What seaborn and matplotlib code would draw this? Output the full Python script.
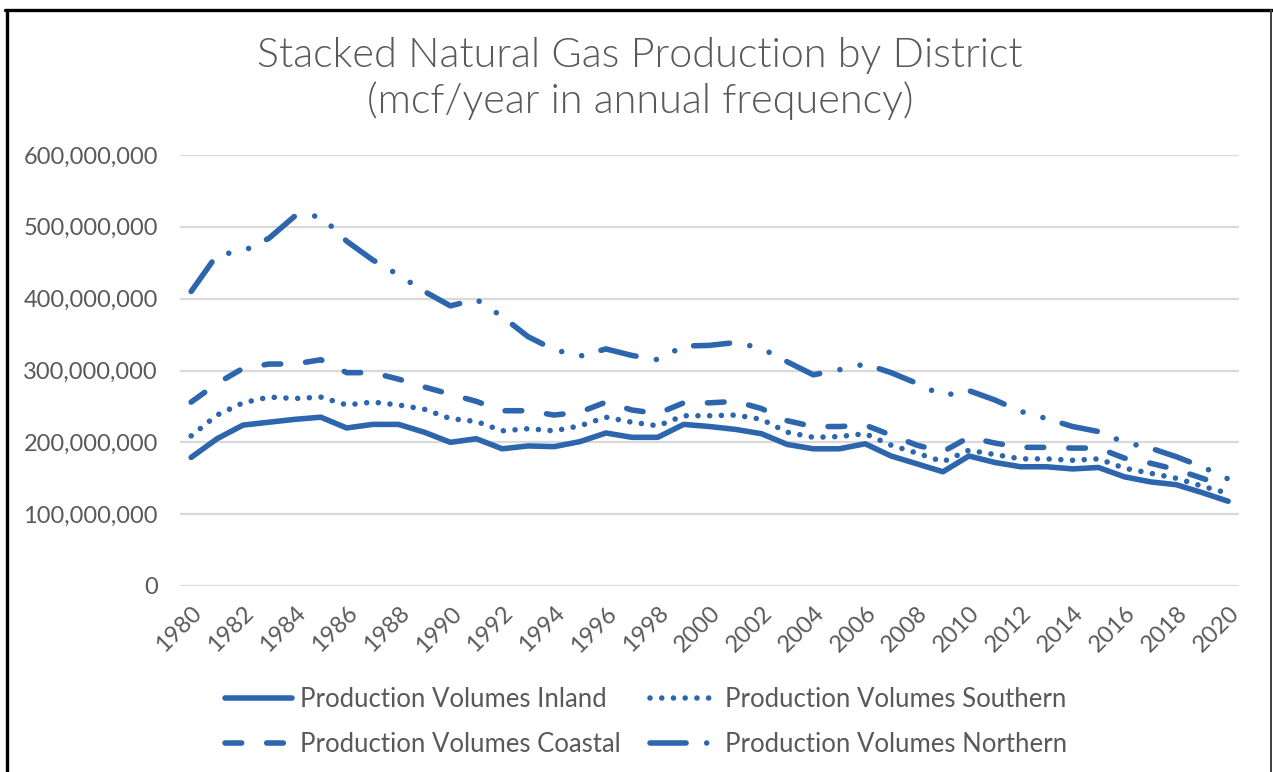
import numpy as np
import matplotlib
matplotlib.use("Agg")
import matplotlib.pyplot as plt
from matplotlib.lines import Line2D
from matplotlib.ticker import FuncFormatter
import seaborn as sns

years = list(range(1980, 2021))

# stacked levels as plotted (millions of mcf/year)
inland = [179, 205, 224, 228, 232, 235, 220, 225, 225, 214,
          200, 205, 191, 195, 194, 201, 213, 207, 207, 225,
          222, 218, 212, 197, 191, 191, 198, 181, 170, 159,
          181, 172, 166, 166, 163, 165, 152, 145, 141, 130,
          118]
southern = [209, 238, 255, 263, 261, 263, 252, 256, 252, 246,
            233, 229, 216, 219, 216, 223, 235, 228, 223, 237,
            237, 238, 232, 214, 207, 208, 212, 196, 185, 173,
            189, 183, 177, 177, 175, 177, 164, 157, 150, 139,
            129]
coastal = [256, 282, 303, 309, 309, 315, 297, 297, 288, 277,
           267, 257, 244, 244, 238, 242, 256, 245, 240, 255,
           255, 257, 247, 230, 222, 222, 224, 210, 196, 187,
           207, 199, 193, 193, 192, 192, 178, 171, 162, 150,
           138]
northern = [410, 461, 466, 484, 515, 515, 480, 454, 433, 410,
            390, 399, 375, 347, 329, 320, 330, 321, 315, 334,
            335, 339, 331, 312, 294, 301, 309, 297, 282, 265,
            272, 259, 243, 233, 222, 215, 200, 192, 180, 166,
            149]

series_names = ["Production Volumes Inland", "Production Volumes Southern",
                "Production Volumes Coastal", "Production Volumes Northern"]
series_values = [inland, southern, coastal, northern]

title_lines = ["Stacked Natural Gas Production by District",
               "(mcf/year in annual frequency)"]
y_ticks = [0, 100e6, 200e6, 300e6, 400e6, 500e6, 600e6]
x_ticks = list(range(1980, 2021, 2))

sns.set_style("white")
plt.rcParams['font.family'] = ['Lato', 'DejaVu Sans']

BLUE = "#2E66AE"
GREY = "#595959"
styles = [
    "-",
    (0, (0.01, 2.1)),
    (0, (3.0, 4.5)),
    (0, (6.5, 3.7, 0.01, 3.7, 0.01, 3.6)),
]

fig = plt.figure(figsize=(12.73, 7.72), dpi=100)
ax = fig.add_axes([180 / 1273, 1 - 586 / 772, (1239 - 180) / 1273, (586 - 155) / 772])

for name, vals, ls in zip(series_names, series_values, styles):
    sns.lineplot(x=years, y=np.array(vals) * 1e6, ax=ax, color=BLUE, lw=4.0,
                 linestyle=ls, dash_capstyle="round", solid_capstyle="round",
                 solid_joinstyle="round", label=name, legend=False)

ax.set_ylim(0, 600e6)
ax.set_xlim(1979.57, 2020.42)
ax.set_yticks(y_ticks)
ax.yaxis.set_major_formatter(FuncFormatter(lambda v, p: f"{int(round(v)):,}"))
ax.set_xticks(x_ticks)
ax.set_xticklabels([str(y) for y in x_ticks], rotation=45, ha="right", va="top",
                   rotation_mode="anchor")
ax.tick_params(axis="both", length=0, colors=GREY, labelsize=17)
ax.tick_params(axis="y", pad=16)
ax.tick_params(axis="x", pad=12)
ax.yaxis.grid(True, color="#D9D9D9", lw=1.6)
ax.xaxis.grid(False)
for s in ax.spines.values():
    s.set_visible(False)
ax.set_xlabel("")
ax.set_ylabel("")

fig.text(640 / 1273, 1 - 56 / 772, title_lines[0], ha="center", va="center",
         fontsize=29.8, color=GREY, fontweight=300)
fig.text(640 / 1273, 1 - 101 / 772, title_lines[1], ha="center", va="center",
         fontsize=29.8, color=GREY, fontweight=300)

handles = ax.get_lines()[:4]
order = [0, 2, 1, 3]
fig.legend([handles[i] for i in order], [series_names[i] for i in order],
           ncol=2, loc="center", bbox_to_anchor=(646 / 1273, 1 - 722 / 772),
           frameon=False, fontsize=18.5, labelcolor=GREY, handlelength=2.6,
           handletextpad=0.3, columnspacing=1.15, labelspacing=0.8)

# outer chart border
fig.add_artist(Line2D([6.5 / 1273, 6.5 / 1273], [0, 1 - 9.5 / 772], color="black",
                      lw=2.4, transform=fig.transFigure))
fig.add_artist(Line2D([5 / 1273, 1272 / 1273], [1 - 9.5 / 772, 1 - 9.5 / 772],
                      color="black", lw=2.4, transform=fig.transFigure))
fig.add_artist(Line2D([1271 / 1273, 1271 / 1273], [0, 1 - 9.5 / 772], color="#404040",
                      lw=1.4, transform=fig.transFigure))

fig.savefig("out.png", dpi=100, facecolor="white")
